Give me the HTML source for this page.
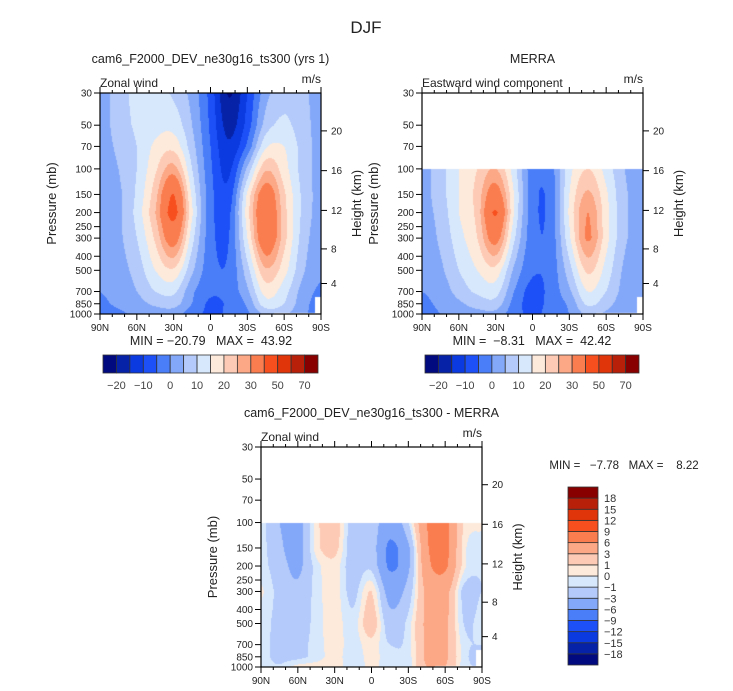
<!DOCTYPE html>
<html><head><meta charset="utf-8">
<style>
html,body{margin:0;padding:0;background:#fff;}
#wrap{position:relative;width:733px;height:691px;overflow:hidden;font-family:"Liberation Sans",sans-serif;}
canvas{position:absolute;}
svg{position:absolute;left:0;top:0;}
text{white-space:pre;}
</style></head>
<body>
<div id="wrap">
<canvas id="c1"></canvas>
<canvas id="c2"></canvas>
<canvas id="c3"></canvas>
<svg id="ov" width="733" height="691"></svg>
</div>
<script>
// ---------- data ----------
const lats = [90,75,60,45,30,15,0,-15,-30,-45,-60,-75,-90];
const pModel = [30,50,70,100,150,200,300,500,700,850,1000];
const uModel = [
 [3, 7, 12, 12, 9, 3, -7, -20.5, -10, 3, 8, 6, 3],
 [3, 7, 11, 13, 13, 5, -6, -17, -8, 7, 11, 7, 3],
 [3, 6, 10, 16, 18, 7, -5, -14, -4, 14, 15, 8, 3],
 [2, 5, 10, 19, 27, 10, -4, -11, 6, 24, 17, 8, 3],
 [2, 4, 11, 23, 40, 14, -3, -8, 16, 35, 21, 9, 3],
 [2, 4, 12, 25, 43, 16, -3, -6, 18, 38, 22, 9, 3],
 [2, 4, 10, 21, 34, 12, -3, -5, 15, 37, 22, 8, 2],
 [1, 3, 7, 15, 19, 6, -3, -4, 8, 24, 17, 6, 1],
 [0, 2, 5, 10, 11, 1, -4, -3, 4, 17, 12, 3, -1],
 [-1, 1, 3, 6, 7, 0, -6, -4, 1, 13, 10, 2, -2],
 [-2, -1, 1, 2, 2, -3, -6, -4, -1, 6, 6, 1, -2]
];
const pObs = [100,150,200,300,500,700,850,1000];
const uObs = [
 [3, 8, 15, 20, 25, 12, -3, -2, 13, 20, 13, 5, 3],
 [3, 8, 15, 22, 34, 15, -3, -3, 15, 26, 16, 6, 3],
 [3, 7, 15, 22, 41, 15, -3, -3, 16, 30, 17, 6, 3],
 [2, 6, 13, 20, 33, 11, -3, -3, 14, 31, 17, 6, 3],
 [1, 4, 10, 15, 18, 4, -4, -3, 8, 21, 13, 4, 2],
 [0, 2, 7, 11, 12, 0, -7, -3, 4, 15, 10, 3, 1],
 [-1, 1, 4, 7, 8, -2, -7, -3, 1, 11, 7, 2, 0],
 [-2, 0, 2, 3, 3, -3, -6, -3, 0, 6, 4, 1, 0]
];
const uDiff = [
 [-0.5, -3, -4, 0.5, 2, -2, -1.5, -5, -1, 6, 7, 1, 0.5],
 [-0.5, -2.5, -4, 0.5, 1.5, -2, -2, -6.5, -3.5, 5.5, 7, 0.5, -1],
 [-0.5, -2, -3.5, -0.5, 0.5, -2, -1.5, -6.5, -3.5, 5, 6.5, 0.5, -1],
 [0.2, -1.5, -2.5, -0.5, 0.5, -1.5, 1, -4, -2, 3.5, 4, -1.5, -1],
 [-0.5, -1.5, -2, -0.5, 0.5, -0.5, 2, -2, -0.5, 3.5, 3.5, -1, -0.5],
 [-0.5, -1.5, -1.5, -0.5, 0.5, -0.5, 0.5, -1, -0.5, 3.5, 3.5, -0.5, -1],
 [-0.5, -1.5, -1.5, -0.5, 0.3, -0.5, 0.3, -0.5, -0.5, 3.5, 3.5, -0.5, -1.5],
 [-0.5, -0.8, 0.5, 0.5, 0.5, -0.5, 0.2, -0.5, -0.5, 3, 3, -0.5, -1]
];
const levelsWind = [-20,-15,-10,-5,0,5,10,15,20,25,30,40,50,60,70];
const levelsDiff = [-18,-15,-12,-9,-6,-3,-1,0,1,3,6,9,12,15,18];
const windLabels = ["-20","-10","0","10","20","30","50","70"];
const diffLabels = ["-18","-15","-12","-9","-6","-3","-1","0","1","3","6","9","12","15","18"];
const pTicks = [30,50,70,100,150,200,250,300,400,500,700,850,1000];
const zTicks = [4,8,12,16,20];
const latTicks = [90,60,30,0,-30,-60,-90];
const palette = ["#020a80","#0623a8","#0a3ae0","#1d50f7","#4a7ef8","#84a8f9","#b3cafa","#d8e8fc","#fdeadb","#fdcbb5","#fca886","#fa7d4f","#f84f1e","#e0340a","#b8200a","#890000"];

// ---------- geometry ----------
const PTOP=30, PBOT=1000;
const plots = [
 {id:'c1', x0:100, x1:321, y0:93, y1:314, p:pModel, u:uModel, lev:levelsWind},
 {id:'c2', x0:422, x1:643, y0:93, y1:314, p:pObs, u:uObs, lev:levelsWind},
 {id:'c3', x0:261, x1:482, y0:447, y1:667, p:pObs, u:uDiff, lev:levelsDiff}
];
function yOfP(pl,p){return pl.y0+(pl.y1-pl.y0)*Math.log(p/PTOP)/Math.log(PBOT/PTOP);}
function pOfY(pl,y){return PTOP*Math.exp((y-pl.y0)/(pl.y1-pl.y0)*Math.log(PBOT/PTOP));}
function xOfLat(pl,lat){return pl.x0+(pl.x1-pl.x0)*(90-lat)/180;}
function pOfZ(z){return z<=11?1013.25*Math.pow(1-z/44.33,5.256):226.3*Math.exp(-(z-11)/6.34);}
function colorIdx(v,lev){let i=0;while(i<lev.length&&v>=lev[i])i++;return i;}
function cr(row,fi){const n=row.length;let i=Math.min(Math.floor(fi),n-2);const t=fi-i;
  const p0=row[Math.max(i-1,0)],p1=row[i],p2=row[i+1],p3=row[Math.min(i+2,n-1)];
  return 0.5*((2*p1)+(-p0+p2)*t+(2*p0-5*p1+4*p2-p3)*t*t+(-p0+3*p1-3*p2+p3)*t*t*t);}
function sample(pl,lat,p){
  const P=pl.p; if(p<P[0]) return null;
  let j=0; while(j<P.length-2&&p>P[j+1]) j++;
  let t=(Math.log(p)-Math.log(P[j]))/(Math.log(P[j+1])-Math.log(P[j])); t=Math.max(0,Math.min(1,t));
  const fi=(90-lat)/15;
  const a=cr(pl.u[j],fi), b=cr(pl.u[j+1],fi);
  return a*(1-t)+b*t;
}
function hexRgb(h){return [parseInt(h.substr(1,2),16),parseInt(h.substr(3,2),16),parseInt(h.substr(5,2),16)];}
const rgb=palette.map(hexRgb);
plots.forEach(pl=>{
  const cv=document.getElementById(pl.id);
  const w=pl.x1-pl.x0, h=pl.y1-pl.y0;
  cv.width=w; cv.height=h; cv.style.left=pl.x0+'px'; cv.style.top=pl.y0+'px';
  const ctx=cv.getContext('2d'); const img=ctx.createImageData(w,h);
  for(let yy=0;yy<h;yy++){const p=pOfY(pl,pl.y0+yy+0.5);
    for(let xx=0;xx<w;xx++){const lat=90-180*(xx+0.5)/w;
      let v=sample(pl,lat,p); const k=(yy*w+xx)*4;
      if((lat<-52&&p>985)||(lat<-85&&p>760)) v=null;
      if(v===null){img.data[k]=255;img.data[k+1]=255;img.data[k+2]=255;img.data[k+3]=255;continue;}
      const c=rgb[colorIdx(v,pl.lev)];
      img.data[k]=c[0];img.data[k+1]=c[1];img.data[k+2]=c[2];img.data[k+3]=255;}}
  ctx.putImageData(img,0,0);
});

// ---------- overlay ----------
const NS='http://www.w3.org/2000/svg'; const ov=document.getElementById('ov');
function el(tag,attrs,parent,txt){const e=document.createElementNS(NS,tag);for(const k in attrs)e.setAttribute(k,attrs[k]);if(txt!==undefined)e.textContent=txt;(parent||ov).appendChild(e);return e;}
function txt(x,y,s,size,anchor,name,extra){const t=el('text',Object.assign({x:x,y:y,'font-size':size,'text-anchor':anchor||'middle',fill:'#222'},extra||{}),ov,s);
  
  return t;}
function latLabel(l){return l===0?'0':(Math.abs(l)+(l>0?'N':'S'));}

txt(366,33,'DJF',17,'middle','figure-title');

function axes(pl,cfg){
  const g=el('g',{});
  
  
  el('rect',{x:pl.x0,y:pl.y0,width:pl.x1-pl.x0,height:pl.y1-pl.y0,fill:'none',stroke:'#000','stroke-width':1.2},g);
  for(let l=90;l>=-90;l-=10){const x=xOfLat(pl,l);const major=(l%30===0);const L=major?6:3;
    el('line',{x1:x,x2:x,y1:pl.y1,y2:pl.y1+L,stroke:'#000'},g);
    el('line',{x1:x,x2:x,y1:pl.y0,y2:pl.y0-L,stroke:'#000'},g);}
  latTicks.forEach(l=>{txt(xOfLat(pl,l),pl.y1+17,latLabel(l),10,'middle',cfg.name+'-lat-label');});
  pTicks.forEach(p=>{const y=yOfP(pl,p);el('line',{x1:pl.x0-6,x2:pl.x0,y1:y,y2:y,stroke:'#000'},g);
    txt(pl.x0-8,y+3.5,String(p),10,'end',cfg.name+'-pressure-label');});
  zTicks.forEach(z=>{const y=yOfP(pl,pOfZ(z));el('line',{x1:pl.x1,x2:pl.x1+6,y1:y,y2:y,stroke:'#000'},g);
    txt(pl.x1+10,y+3.5,String(z),10,'start',cfg.name+'-height-label');});
  const cy=(pl.y0+pl.y1)/2;
  txt(pl.x0-44,cy,'Pressure (mb)',13,'middle',cfg.name+'-y-axis-title',{transform:`rotate(-90 ${pl.x0-44} ${cy})`});
  txt(pl.x1+40,cy,'Height (km)',13,'middle',cfg.name+'-y2-axis-title',{transform:`rotate(-90 ${pl.x1+40} ${cy})`});
  txt((pl.x0+pl.x1)/2,pl.y0-30,cfg.title,12.5,'middle',cfg.name+'-title');
  txt(pl.x0,pl.y0-6,cfg.left,12,'start',cfg.name+'-variable-label');
  txt(pl.x1,pl.y0-10,'m/s',12,'end',cfg.name+'-units-label');
}
axes(plots[0],{name:'model',title:'cam6_F2000_DEV_ne30g16_ts300 (yrs 1)',left:'Zonal wind'});
axes(plots[1],{name:'merra',title:'MERRA',left:'Eastward wind component'});
axes(plots[2],{name:'diff',title:'cam6_F2000_DEV_ne30g16_ts300 - MERRA',left:'Zonal wind'});
txt(211,345,'MIN = \u221220.79   MAX =  43.92',12.5,'middle','model-min-max');
txt(532,345,'MIN =  \u22128.31   MAX =  42.42',12.5,'middle','merra-min-max');
txt(624,469,'MIN =   \u22127.78   MAX =    8.22',11.5,'middle','diff-min-max');

function hbar(x0,x1,y0,y1,name){
  const n=palette.length,w=(x1-x0)/n;
  palette.forEach((c,i)=>{const r=el('rect',{x:x0+i*w,y:y0,width:w,height:y1-y0,fill:c,stroke:'#333','stroke-width':0.8});
    
    });
  windLabels.forEach((s,k)=>{const i=1+2*k;txt(x0+i*w,y1+16,s.replace('-','\u2212'),11,'middle',name+'-label',{fill:'#444'});});
}
hbar(103,318,355,373,'model-colorbar');
hbar(425,639,355,373,'merra-colorbar');
(function(){const x0=568,x1=598,y0=487,y1=665,n=palette.length,h=(y1-y0)/n;
  palette.forEach((c,i)=>{const r=el('rect',{x:x0,y:y1-(i+1)*h,width:x1-x0,height:h,fill:c,stroke:'#333','stroke-width':0.8});
    
    });
  diffLabels.forEach((s,i)=>{txt(604,y1-(i+1)*h+4,s.replace('-','\u2212'),11,'start','diff-colorbar-label',{fill:'#333'});});
})();
</script>
</body></html>
